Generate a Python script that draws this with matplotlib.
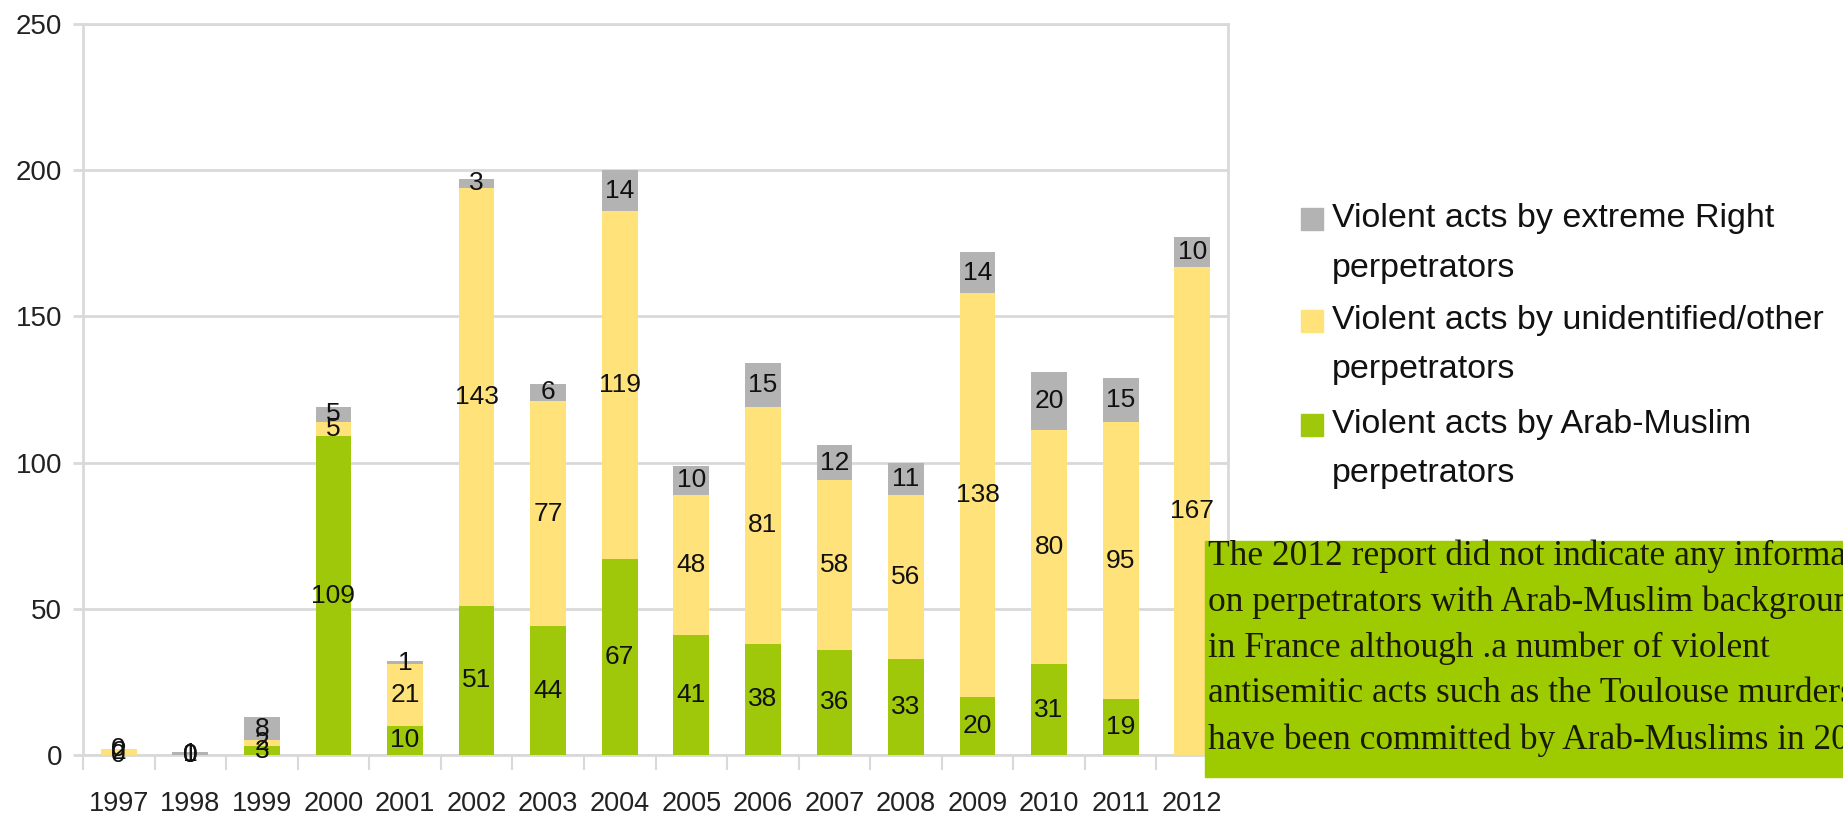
import numpy as np
import matplotlib
matplotlib.use("Agg")
import matplotlib.pyplot as plt
from matplotlib.patches import Rectangle

years = ["1997", "1998", "1999", "2000", "2001", "2002", "2003", "2004",
         "2005", "2006", "2007", "2008", "2009", "2010", "2011", "2012"]
arab_muslim = [0, 0, 3, 109, 10, 51, 44, 67, 41, 38, 36, 33, 20, 31, 19, np.nan]
unidentified = [2, 0, 2, 5, 21, 143, 77, 119, 48, 81, 58, 56, 138, 80, 95, 167]
extreme_right = [0, 1, 8, 5, 1, 3, 6, 14, 10, 15, 12, 11, 14, 20, 15, 10]

series_labels = ["Violent acts by extreme Right\nperpetrators",
                 "Violent acts by unidentified/other\nperpetrators",
                 "Violent acts by Arab-Muslim\nperpetrators"]
note_lines = ["The 2012 report did not indicate any information",
              "on perpetrators with Arab-Muslim background",
              "in France although .a number of violent",
              "antisemitic acts such as the Toulouse murders",
              "have been committed by Arab-Muslims in 2012."]
y_ticks = [0, 50, 100, 150, 200, 250]

GREEN = "#a0c80a"
YELLOW = "#ffe27a"
GREY = "#b3b3b3"
BOXGREEN = "#9dcb00"
GRID = "#d9d9d9"
SANS = ["Liberation Sans", "DejaVu Sans"]
SERIF = ["Liberation Serif", "DejaVu Serif"]

W, H = 1843, 818
fig = plt.figure(figsize=(W / 100, H / 100), dpi=100)
ax = fig.add_axes([83 / W, 1 - 755 / H, (1228 - 83) / W, (755 - 24) / H])

x = np.arange(len(years))
g = np.nan_to_num(np.array(arab_muslim, dtype=float))
yv = np.array(unidentified, dtype=float)
r = np.array(extreme_right, dtype=float)
wbar = 0.5
ax.bar(x, g, wbar, color=GREEN, zorder=3)
ax.bar(x, yv, wbar, bottom=g, color=YELLOW, zorder=3)
ax.bar(x, r, wbar, bottom=g + yv, color=GREY, zorder=3)

for i in range(len(years)):
    segs = [(arab_muslim[i], 0), (unidentified[i], g[i]), (extreme_right[i], g[i] + yv[i])]
    for val, base in segs:
        if isinstance(val, float) and np.isnan(val):
            continue
        ax.text(x[i], base + val / 2, f"{int(val)}", ha="center", va="center",
                fontsize=19, family=SANS, color="#111111", zorder=4)

ax.set_xlim(-0.5, len(years) - 0.5)
ax.set_ylim(0, 250)
ax.set_yticks(y_ticks)
ax.set_yticklabels([str(t) for t in y_ticks], family=SANS, fontsize=20, color="#222222")
ax.set_xticks(x)
ax.set_xticklabels(years, family=SANS, fontsize=19.5, color="#222222")
ax.set_xticks(np.arange(len(years) + 1) - 0.5, minor=True)
ax.tick_params(axis="x", which="major", length=0, pad=26)
ax.tick_params(axis="x", which="minor", length=11, width=1.5, color=GRID, direction="out")
ax.tick_params(axis="y", which="major", length=7, width=2, color=GRID, pad=8)
ax.grid(axis="y", color=GRID, linewidth=2, zorder=0)
for s in ax.spines.values():
    s.set_color(GRID)
    s.set_linewidth(2)

# legend
leg_colors = [GREY, YELLOW, GREEN]
leg_tops = [219, 321, 425]
for lab, col, yc in zip(series_labels, leg_colors, leg_tops):
    fig.patches.append(Rectangle((1301 / W, 1 - (yc + 11) / H), 22 / W, 22 / H,
                                 transform=fig.transFigure, color=col))
    l1, l2 = lab.split("\n")
    fig.text(1332 / W, 1 - yc / H, l1, ha="left", va="center", fontsize=24.5,
             family=SANS, color="#111111")
    fig.text(1332 / W, 1 - (yc + 49) / H, l2, ha="left", va="center", fontsize=24.5,
             family=SANS, color="#111111")

# note box
fig.patches.append(Rectangle((1205 / W, 1 - 777 / H), (W - 1205) / W, (777 - 541) / H,
                             transform=fig.transFigure, color=BOXGREEN, zorder=5))
for k, line in enumerate(note_lines):
    fig.text(1208 / W, 1 - (556 + 46 * k) / H, line, ha="left", va="center",
             fontsize=25.5, family=SERIF, color="#1a1a00", zorder=6)

fig.savefig("out.png", dpi=100)
